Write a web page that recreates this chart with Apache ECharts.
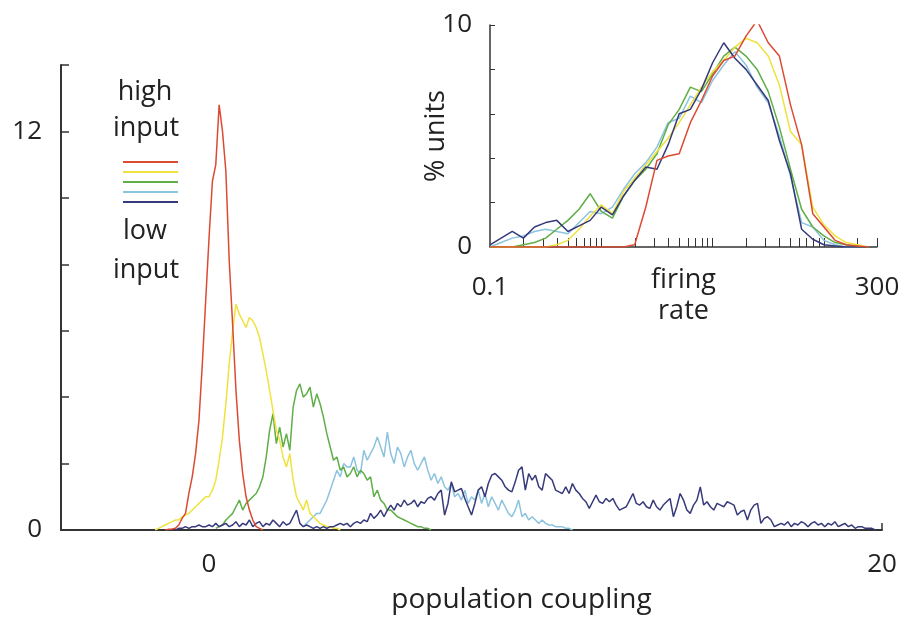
<!DOCTYPE html>
<html><head><meta charset="utf-8">
<script src="https://cdn.jsdelivr.net/npm/echarts@6/dist/echarts.min.js"></script>
<style>html,body{margin:0;padding:0;background:#fff}#c{width:904px;height:627px}</style>
</head><body><div id="c"></div>
<script>
// ---------- DATA ----------
const seriesNames = ['high input', 'input 4', 'input 3', 'input 2', 'low input'];

// Main panel: % units vs population coupling, bins of 0.1
const couplingStep = 0.1;
const redStart = -1.3;
const redValues = [0, 0.02, 0.03, 0.05, 0.15, 0.35, 0.5, 1.1, 1.6, 2.3, 3.3, 5.0, 6.9, 8.8, 10.5, 11.0, 12.8, 12.0, 10.8, 8.1, 6.2, 4.2, 2.7, 1.7, 1.0, 0.6, 0.3, 0.1, 0.05, 0];
const yellowStart = -1.6;
const yellowValues = [0, 0.05, 0.1, 0.15, 0.2, 0.25, 0.3, 0.3, 0.4, 0.45, 0.5, 0.6, 0.7, 0.8, 0.9, 1.0, 1.0, 1.2, 1.5, 2.1, 2.8, 3.8, 5.0, 6.0, 6.8, 6.5, 6.3, 6.1, 6.4, 6.3, 6.1, 5.8, 5.3, 4.8, 4.2, 3.6, 3.0, 2.7, 2.2, 1.9, 2.3, 1.5, 1.0, 0.8, 0.6, 0.9, 0.5, 0.4, 0.3, 0.2, 0.15, 0.1, 0.1, 0.05, 0.05, 0];
const greenStart = 0.2;
const greenValues = [0.05, 0.1, 0.15, 0.3, 0.4, 0.5, 0.7, 0.9, 0.6, 0.8, 0.9, 1.0, 1.1, 1.3, 1.6, 2.2, 3.0, 3.5, 2.6, 3.1, 2.5, 2.9, 2.4, 3.7, 4.2, 4.4, 4.0, 4.1, 4.3, 3.7, 4.1, 3.8, 3.4, 2.9, 2.5, 2.1, 2.2, 1.8, 1.9, 1.6, 1.7, 1.9, 1.6, 1.8, 1.7, 1.5, 1.6, 1.0, 1.2, 0.9, 0.8, 0.6, 0.6, 0.5, 0.4, 0.35, 0.3, 0.25, 0.2, 0.15, 0.1, 0.1, 0.05, 0.05, 0];
const lightBlueStart = 2.8;
const lightBlueValues = [0.1, 0.2, 0.3, 0.4, 0.5, 0.5, 0.7, 0.9, 1.2, 1.5, 1.8, 1.6, 2.0, 1.9, 1.9, 2.2, 1.8, 1.7, 2.4, 2.1, 2.3, 2.5, 2.8, 2.5, 2.2, 2.95, 2.3, 2.0, 2.5, 2.3, 1.9, 2.2, 2.4, 2.0, 1.8, 2.0, 2.2, 1.8, 1.5, 1.7, 1.4, 1.6, 1.3, 1.2, 1.4, 1.0, 1.1, 0.9, 1.2, 0.8, 1.0, 0.9, 1.2, 0.8, 1.1, 0.7, 1.0, 0.8, 0.6, 0.9, 0.7, 0.5, 0.4, 0.6, 0.9, 0.4, 0.5, 0.3, 0.4, 0.3, 0.2, 0.3, 0.2, 0.15, 0.15, 0.1, 0.1, 0.1, 0.05, 0.05, 0];
const navyStart = -1.0;
const navyValues = [
  0.0, 0.05, 0.05, 0.1, 0.05, 0.1, 0.1, 0.15, 0.1, 0.1,
  0.15, 0.1, 0.2, 0.1, 0.15, 0.2, 0.1, 0.15, 0.25, 0.1,
  0.2, 0.15, 0.3, 0.1, 0.2, 0.25, 0.1, 0.2, 0.15, 0.3,
  0.2, 0.1, 0.25, 0.15, 0.2, 0.4, 0.6, 0.2, 0.1, 0.15,
  0.1, 0.05, 0.1, 0.05, 0.1, 0.05, 0.1, 0.1, 0.15, 0.2,
  0.15, 0.2, 0.1, 0.2, 0.25, 0.2, 0.3, 0.25, 0.5, 0.35,
  0.45, 0.6, 0.4, 0.6, 0.75, 0.6, 0.8, 0.7, 0.9, 0.75,
  0.8, 0.9, 0.7, 0.85, 0.8, 0.95, 1.0, 0.9, 1.1, 1.2,
  0.45, 0.8, 1.45, 1.15, 1.2, 1.25, 0.95, 0.7, 0.45, 0.8,
  1.2, 1.3, 1.0, 1.4, 1.65, 1.7, 1.6, 1.5, 1.3, 1.2,
  1.15, 1.45, 1.8, 1.9, 1.2, 1.7, 1.5, 1.65, 1.3, 1.2,
  1.7, 1.6, 1.5, 1.2, 1.15, 1.1, 1.3, 1.1, 1.4, 1.2,
  1.1, 0.95, 0.85, 0.65, 0.85, 1.05, 0.85, 0.8, 0.95, 0.85,
  0.95, 0.75, 0.6, 0.65, 0.7, 0.9, 1.1, 0.8, 0.75, 0.85,
  0.7, 0.65, 0.9, 0.7, 0.6, 0.75, 0.85, 0.95, 0.4, 0.7,
  1.1, 0.9, 0.6, 0.5, 0.75, 0.9, 1.3, 0.75, 0.85, 0.7,
  0.6, 0.8, 0.75, 0.7, 0.85, 0.8, 0.75, 0.45, 0.55, 0.6,
  0.3, 0.6, 0.75, 0.8, 0.2, 0.35, 0.4, 0.3, 0.1, 0.15,
  0.2, 0.15, 0.25, 0.1, 0.2, 0.15, 0.25, 0.2, 0.1, 0.2,
  0.25, 0.15, 0.2, 0.1, 0.2, 0.15, 0.25, 0.1, 0.15, 0.2,
  0.1, 0.15, 0.05, 0.1, 0.1, 0.05, 0.05, 0.05, 0.0
];

// Inset: % units vs firing rate (log bins of 0.1 decade from 0.1 Hz)
const rateLogStart = -1;
const rateLogStep = 0.1;
const insetRed = [0, 0, 0, 0, 0, 0, 0, 0, 0, 0, 0, 0, 0, 0.1, 1.8, 3.9, 4.1, 4.2, 5.6, 6.6, 7.7, 8.4, 8.6, 9.5, 10.2, 9.2, 8.6, 6.4, 4.6, 1.5, 0.9, 0.3, 0.1, 0.05, 0];
const insetYellow = [0, 0, 0, 0, 0, 0, 0.1, 0.3, 0.8, 1.4, 1.9, 1.5, 2.5, 3.1, 3.7, 4.3, 4.9, 5.6, 6.4, 7.2, 7.9, 8.4, 9.0, 9.4, 9.2, 8.6, 7.3, 5.2, 4.6, 1.8, 1.0, 0.5, 0.2, 0.1, 0];
const insetGreen = [0, 0, 0, 0.1, 0.2, 0.4, 0.8, 1.2, 1.7, 2.4, 1.6, 1.3, 2.3, 3.0, 3.5, 4.2, 5.5, 6.2, 7.2, 7.0, 7.8, 8.6, 9.0, 8.6, 8.0, 7.0, 5.4, 3.5, 1.7, 0.9, 0.5, 0.2, 0.1, 0, 0];
const insetLightBlue = [0, 0.2, 0.4, 0.5, 0.7, 0.8, 0.7, 0.6, 1.1, 1.6, 1.5, 1.8, 2.6, 3.3, 3.8, 4.5, 5.6, 5.8, 6.8, 6.5, 7.5, 8.2, 8.8, 8.2, 7.2, 6.5, 5.0, 3.2, 1.1, 0.9, 0.3, 0.1, 0, 0, 0];
const insetNavy = [0.1, 0.4, 0.7, 0.4, 0.9, 1.1, 1.2, 0.7, 0.95, 1.2, 1.8, 1.45, 2.3, 3.0, 3.6, 3.5, 4.6, 6.0, 6.2, 7.1, 8.3, 9.2, 8.5, 8.0, 7.3, 6.6, 4.8, 3.3, 0.8, 0.35, 0.1, 0.05, 0, 0, 0];

// Tick / label values
const mainXLabels = [0, 20];
const mainYLabels = [0, 12];
const insetYLabels = [0, 10];
const insetXLabels = [0.1, 300];
const insetRateTicks = [0.2, 0.3, 0.4, 0.5, 0.6, 0.7, 0.8, 0.9, 1, 2, 3, 4, 5, 6, 7, 8, 9, 10, 20, 30, 40, 50, 60, 70, 80, 90, 100, 200, 300];

// ---------- STYLE ----------
const colors = ['#dc4a32', '#efe23c', '#5fae47', '#8cc3de', '#36397a'];
const FONT = "'Open Sans', 'DejaVu Sans', sans-serif";
const axisColor = '#333';
const textColor = '#222';

// ---------- BUILD ----------
const mainSets = [[redStart, redValues], [yellowStart, yellowValues], [greenStart, greenValues], [lightBlueStart, lightBlueValues], [navyStart, navyValues]];
const insetSets = [insetRed, insetYellow, insetGreen, insetLightBlue, insetNavy];
function mainPairs(start, vals) {
  return vals.map((v, i) => [Math.round((start + i * couplingStep) * 100) / 100, v]);
}
function insetPairs(vals) {
  return vals.map((v, i) => {
    const rate = Math.pow(10, rateLogStart + i * rateLogStep);
    return [Math.log10(rate), v];
  });
}
const drawOrder = [3, 2, 1, 4, 0];
const series = [];
drawOrder.forEach(k => {
  series.push({
    type: 'line', name: seriesNames[k], xAxisIndex: 0, yAxisIndex: 0,
    data: mainPairs(mainSets[k][0], mainSets[k][1]),
    showSymbol: false, symbol: 'none', lineStyle: { width: 1.5, color: colors[k] }, itemStyle: { color: colors[k] },
    silent: true, z: 2
  });
});
drawOrder.forEach(k => {
  series.push({
    type: 'line', name: seriesNames[k], xAxisIndex: 1, yAxisIndex: 1,
    data: insetPairs(insetSets[k]),
    showSymbol: false, symbol: 'none', lineStyle: { width: 1.5, color: colors[k] }, itemStyle: { color: colors[k] },
    silent: true, z: 3
  });
});

const chart = echarts.init(document.getElementById('c'));
chart.setOption({
  animation: false,
  backgroundColor: '#fff',
  grid: [
    { left: 61, right: 22, top: 65, bottom: 97, containLabel: false },
    { left: 490, right: 27, top: 25, bottom: 380, containLabel: false }
  ],
  legend: {
    data: seriesNames,
    orient: 'vertical', left: 118, top: 156,
    icon: 'rect', itemWidth: 55, itemHeight: 2, itemGap: 8,
    selectedMode: false,
    formatter: () => '',
    textStyle: { fontSize: 2, lineHeight: 2 }
  },
  xAxis: [
    {
      type: 'value', gridIndex: 0, min: -4.4, max: 20,
      axisLine: { show: true, onZero: false, lineStyle: { color: axisColor, width: 2 } },
      axisTick: { show: true, inside: true, length: 7, customValues: [20], lineStyle: { color: axisColor, width: 1.5 } },
      axisLabel: { customValues: mainXLabels, margin: 22, fontSize: 26, color: textColor, fontFamily: FONT },
      splitLine: { show: false },
      name: 'population coupling', nameLocation: 'middle', nameGap: 56, nameMoveOverlap: false,
      nameTextStyle: { fontSize: 28, color: textColor, fontFamily: FONT, padding: [0, 0, 0, 100] }
    },
    {
      type: 'value', gridIndex: 1, min: -1, max: Math.log10(300),
      axisLine: { show: true, onZero: false, lineStyle: { color: axisColor, width: 1.5 } },
      axisTick: { show: true, inside: true, length: 9, customValues: insetRateTicks.map(r => Math.log10(r)), lineStyle: { color: axisColor, width: 1 } },
      axisLabel: { customValues: insetXLabels.map(r => Math.log10(r)), formatter: v => String(Math.round(Math.pow(10, v) * 10) / 10), margin: 28, fontSize: 26, color: textColor, fontFamily: FONT },
      splitLine: { show: false },
      name: 'firing\nrate', nameLocation: 'middle', nameGap: 18, nameMoveOverlap: false,
      nameTextStyle: { fontSize: 27, lineHeight: 31, color: textColor, fontFamily: FONT, verticalAlign: 'top' }
    }
  ],
  yAxis: [
    {
      type: 'value', gridIndex: 0, min: 0, max: 14, interval: 2,
      axisLine: { show: true, onZero: false, lineStyle: { color: axisColor, width: 2 } },
      axisTick: { show: true, inside: true, length: 8, lineStyle: { color: axisColor, width: 1.5 } },
      axisLabel: { customValues: mainYLabels, margin: 19, fontSize: 26, color: textColor, fontFamily: FONT },
      splitLine: { show: false }
    },
    {
      type: 'value', gridIndex: 1, min: 0, max: 10, interval: 2,
      axisLine: { show: true, onZero: false, lineStyle: { color: axisColor, width: 1.5 } },
      axisTick: { show: true, inside: true, length: 5, lineStyle: { color: axisColor, width: 1 } },
      axisLabel: { customValues: insetYLabels, margin: 18, fontSize: 26, color: textColor, fontFamily: FONT },
      splitLine: { show: false },
      name: '% units', nameLocation: 'middle', nameRotate: 90, nameGap: 40, nameMoveOverlap: false,
      nameTextStyle: { fontSize: 27, color: textColor, fontFamily: FONT }
    }
  ],
  graphic: [
    { type: 'text', x: 145, y: 92, style: { text: 'high', font: '27px ' + FONT, fill: textColor, textAlign: 'center', textVerticalAlign: 'middle' } },
    { type: 'text', x: 146, y: 128, style: { text: 'input', font: '27px ' + FONT, fill: textColor, textAlign: 'center', textVerticalAlign: 'middle' } },
    { type: 'text', x: 145, y: 231, style: { text: 'low', font: '27px ' + FONT, fill: textColor, textAlign: 'center', textVerticalAlign: 'middle' } },
    { type: 'text', x: 146, y: 270, style: { text: 'input', font: '27px ' + FONT, fill: textColor, textAlign: 'center', textVerticalAlign: 'middle' } }
  ],
  series: series
});
</script>
</body></html>
